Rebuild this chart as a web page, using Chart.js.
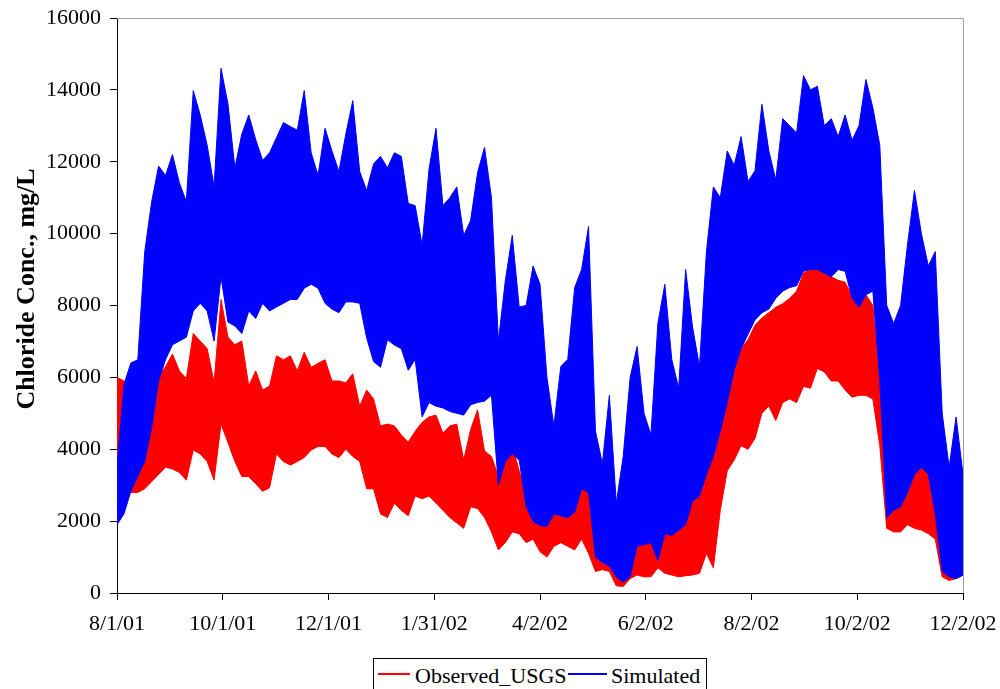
<!DOCTYPE html>
<html>
<head>
<meta charset="utf-8">
<title>Chloride Conc.</title>
<script src="https://cdn.jsdelivr.net/npm/chart.js@4.4.1/dist/chart.umd.min.js"></script>
<style>
    body { margin: 0; background: #fff; }
    #wrap { position: relative; width: 1000px; height: 689px; overflow: hidden; }
    #grafico { position: absolute; left: 0; top: 0; }
    #legenda {
        position: absolute; left: 373px; top: 658px; width: 334px; height: 40px;
        box-sizing: border-box; border: 1px solid #000; background: #fff;
        font-family: "Liberation Serif", "Times New Roman", serif; font-size: 22px; color: #000;
    }
    .linha { position: absolute; top: 14px; height: 2px; }
    .txt { position: absolute; top: 4px; line-height: 26px; white-space: nowrap; }
</style>
</head>
<body>
<div id="wrap">
    <canvas id="grafico" width="1000" height="689"></canvas>
    <div id="legenda">
        <div class="linha" style="left:4px;width:32px;background-color:#ff0000"></div>
        <span class="txt" style="left:41px">Observed_USGS</span>
        <div class="linha" style="left:194px;width:39px;background-color:#0000ff"></div>
        <span class="txt" style="left:237px">Simulated</span>
    </div>
</div>
<script>
// days since 8/1/01, one sample every 4 days
const dias = [0, 4, 8, 12, 16, 20, 24, 28, 32, 36, 40, 44, 48, 52, 56, 60, 64, 68, 72, 76,
    80, 84, 88, 92, 96, 100, 104, 108, 112, 116, 120, 124, 128, 132, 136, 140, 144, 148, 152, 156,
    160, 164, 168, 172, 176, 180, 184, 188, 192, 196, 200, 204, 208, 212, 216, 220, 224, 228, 232, 236,
    240, 244, 248, 252, 256, 260, 264, 268, 272, 276, 280, 284, 288, 292, 296, 300, 304, 308, 312, 316,
    320, 324, 328, 332, 336, 340, 344, 348, 352, 356, 360, 364, 368, 372, 376, 380, 384, 388, 392, 396,
    400, 404, 408, 412, 416, 420, 424, 428, 432, 436, 440, 444, 448, 452, 456, 460, 464, 468, 472, 476,
    480, 484, 488];

// Simulated: upper and lower edge of the daily swing (mg/L)
const simuladoMax = [3500, 5800, 6400, 6490, 9500, 10890, 11880, 11620, 12200, 11410, 10890, 13980, 13300, 12460, 11310, 14600, 13610, 11830, 12770, 13300,
    12620, 12040, 12250, 12670, 13090, 12980, 12880, 13980, 12250, 11620, 12930, 12300, 11730, 12770, 13700, 11730, 11200, 11940, 12150, 11830,
    12250, 12150, 10840, 10780, 9680, 11800, 12930, 10780, 11000, 11300, 9950, 10370, 11700, 12400, 11000, 7010, 8690, 9950, 7960, 8000,
    9100, 8590, 6000, 4650, 6300, 6500, 8500, 9000, 10200, 4500, 3600, 5500, 2500, 3800, 6000, 6860, 5000, 4400, 7500, 8590,
    6500, 5700, 9000, 7400, 6300, 9500, 11300, 11000, 12300, 11900, 12700, 11450, 11750, 13600, 12300, 11500, 13200, 13000, 12800, 14400,
    14000, 14100, 13000, 13200, 12700, 13300, 12600, 13000, 14290, 13500, 12460, 8000, 7500, 8000, 9700, 11200, 10000, 9100, 9500, 5000,
    3500, 4900, 3300];
const simuladoMin = [1900, 2200, 2830, 3250, 3660, 4600, 5900, 6490, 6910, 7010, 7120, 7850, 8060, 7850, 7010, 8800, 7540, 7430, 7220, 7850,
    7640, 8060, 7850, 7960, 8060, 8170, 8170, 8480, 8590, 8480, 8060, 7900, 7800, 8100, 8100, 8060, 7100, 6440, 6280, 7050,
    6900, 6800, 6200, 6500, 4900, 5300, 5200, 5150, 5050, 5000, 4950, 5240, 5300, 5340, 5500, 3000, 3660, 3870, 3700, 2400,
    1990, 1880, 1850, 2200, 2150, 2100, 2250, 2900, 2800, 1000, 850, 750, 450, 300, 450, 1300, 1350, 1400, 900, 1650,
    1600, 1750, 1900, 2550, 2700, 3300, 3800, 4500, 5300, 6200, 6800, 7200, 7600, 7800, 7900, 8200, 8400, 8500, 8550, 8950,
    9000, 9000, 8900, 8800, 9000, 8950, 8200, 7950, 8300, 8400, 5900, 2100, 2300, 2400, 2800, 3300, 3500, 3300, 2200, 600,
    450, 400, 500];

// Observed_USGS: upper and lower edge (mg/L)
const observadoMax = [6000, 5900, 5800, 5500, 5500, 5600, 6000, 6300, 6650, 6180, 5970, 7220, 7010, 6800, 5860, 8170, 7120, 6910, 7010, 5760,
    6180, 5650, 5760, 6600, 6490, 6600, 6180, 6700, 6280, 6390, 6490, 5900, 5900, 5850, 6100, 5200, 5650, 5400, 4650, 4700,
    4650, 4400, 4200, 4500, 4750, 4900, 4950, 4450, 4650, 4700, 3700, 4550, 5100, 3950, 3800, 3250, 3660, 4100, 3400, 2700,
    2500, 2300, 2100, 2400, 2300, 2300, 2400, 3000, 2900, 1300, 1000, 900, 500, 400, 500, 1400, 1450, 1500, 1300, 1800,
    1800, 1900, 2300, 2800, 2850, 3300, 3800, 4500, 5300, 6200, 6800, 7050, 7450, 7650, 7800, 7950, 8050, 8200, 8400, 8900,
    9000, 9100, 8900, 8800, 8700, 8650, 8250, 8100, 8300, 8000, 5900, 3000, 2700, 2800, 3000, 3500, 3600, 3500, 3000, 1000,
    800, 900, 1700];
const observadoMin = [3300, 3000, 2800, 2800, 2900, 3100, 3300, 3500, 3450, 3350, 3140, 3980, 3870, 3660, 3140, 4700, 4190, 3660, 3240, 3240,
    3040, 2830, 2930, 3870, 3660, 3560, 3660, 3770, 3980, 4080, 4080, 3870, 3770, 4000, 3800, 3660, 2900, 2900, 2200, 2100,
    2500, 2300, 2150, 2700, 2620, 2700, 2500, 2300, 2100, 1950, 1800, 2400, 2350, 2100, 1700, 1200, 1400, 1700, 1650, 1400,
    1500, 1150, 1000, 1300, 1400, 1300, 1200, 1500, 1100, 600, 650, 600, 200, 180, 400, 500, 450, 450, 700, 550,
    500, 450, 480, 500, 550, 1100, 700, 2300, 3400, 3700, 4100, 4000, 4300, 5000, 5200, 4800, 5300, 5400, 5300, 5750,
    5700, 6250, 6150, 5900, 5900, 5650, 5450, 5500, 5500, 5400, 4100, 1800, 1700, 1700, 1900, 1800, 1750, 1650, 1500, 450,
    350, 400, 500];

const fonteSerif = "'Liberation Serif', 'Times New Roman', serif";

function dataDoDia(d) {
    const data = new Date(2001, 7, 1 + d);
    return (data.getMonth() + 1) + "/" + data.getDate() + "/" + String(data.getFullYear()).slice(2);
}

function pontos(valores) {
    return dias.map((d, i) => ({ x: d, y: valores[i] }));
}

const moldura = {
    id: "moldura",
    beforeDatasetsDraw(chart) {
        const ctx = chart.ctx;
        const a = chart.chartArea;
        ctx.save();
        ctx.strokeStyle = "#a0a0a0";
        ctx.lineWidth = 1;
        ctx.beginPath();
        ctx.moveTo(a.left, a.top + 0.5);
        ctx.lineTo(a.right + 0.5, a.top + 0.5);
        ctx.lineTo(a.right + 0.5, a.bottom);
        ctx.stroke();
        ctx.restore();
    }
};

const tituloEixoY = {
    id: "tituloEixoY",
    afterDraw(chart) {
        const ctx = chart.ctx;
        ctx.save();
        ctx.translate(27, 289);
        ctx.rotate(-Math.PI / 2);
        ctx.font = "bold 26px " + fonteSerif;
        ctx.textAlign = "center";
        ctx.textBaseline = "middle";
        ctx.fillStyle = "#000";
        ctx.fillText("Chloride Conc., mg/L", 0, 0);
        ctx.restore();
    }
};

new Chart(document.getElementById("grafico"), {
    type: "line",
    data: {
        datasets: [
            {
                label: "Simulated",
                data: pontos(simuladoMax),
                borderColor: "#0000ff",
                backgroundColor: "#0000ff",
                borderWidth: 1,
                pointRadius: 0,
                fill: "+1"
            },
            {
                label: "Simulated (min)",
                data: pontos(simuladoMin),
                borderColor: "#0000ff",
                backgroundColor: "#0000ff",
                borderWidth: 1,
                pointRadius: 0,
                fill: false
            },
            {
                label: "Observed_USGS",
                data: pontos(observadoMax),
                borderColor: "#ff0000",
                backgroundColor: "#ff0000",
                borderWidth: 1,
                pointRadius: 0,
                fill: "+1"
            },
            {
                label: "Observed_USGS (min)",
                data: pontos(observadoMin),
                borderColor: "#ff0000",
                backgroundColor: "#ff0000",
                borderWidth: 1,
                pointRadius: 0,
                fill: false
            }
        ]
    },
    options: {
        responsive: false,
        animation: false,
        devicePixelRatio: 1,
        layout: {
            padding: { top: 18, right: 37, left: 0, bottom: 0 }
        },
        plugins: {
            legend: { display: false },
            tooltip: { enabled: false }
        },
        scales: {
            x: {
                type: "linear",
                min: 0,
                max: 488,
                afterFit(scale) {
                    scale.height = 96;
                    scale.paddingLeft = 0;
                    scale.paddingRight = 0;
                },
                ticks: {
                    stepSize: 61,
                    autoSkip: false,
                    maxRotation: 0,
                    padding: 11,
                    color: "#000",
                    font: { family: fonteSerif, size: 22 },
                    callback: (v) => dataDoDia(v)
                },
                grid: { drawOnChartArea: false, drawTicks: true, tickLength: 7, color: "#000" },
                border: { color: "#000", width: 1 }
            },
            y: {
                min: 0,
                max: 16000,
                afterFit(scale) {
                    scale.width = 117;
                    scale.paddingTop = 0;
                    scale.paddingBottom = 0;
                },
                ticks: {
                    stepSize: 2000,
                    padding: 9,
                    color: "#000",
                    font: { family: fonteSerif, size: 22 },
                    callback: (v) => String(v)
                },
                grid: { drawOnChartArea: false, drawTicks: true, tickLength: 7, color: "#000" },
                border: { color: "#000", width: 1 }
            }
        }
    },
    plugins: [moldura, tituloEixoY]
});
</script>
</body>
</html>
